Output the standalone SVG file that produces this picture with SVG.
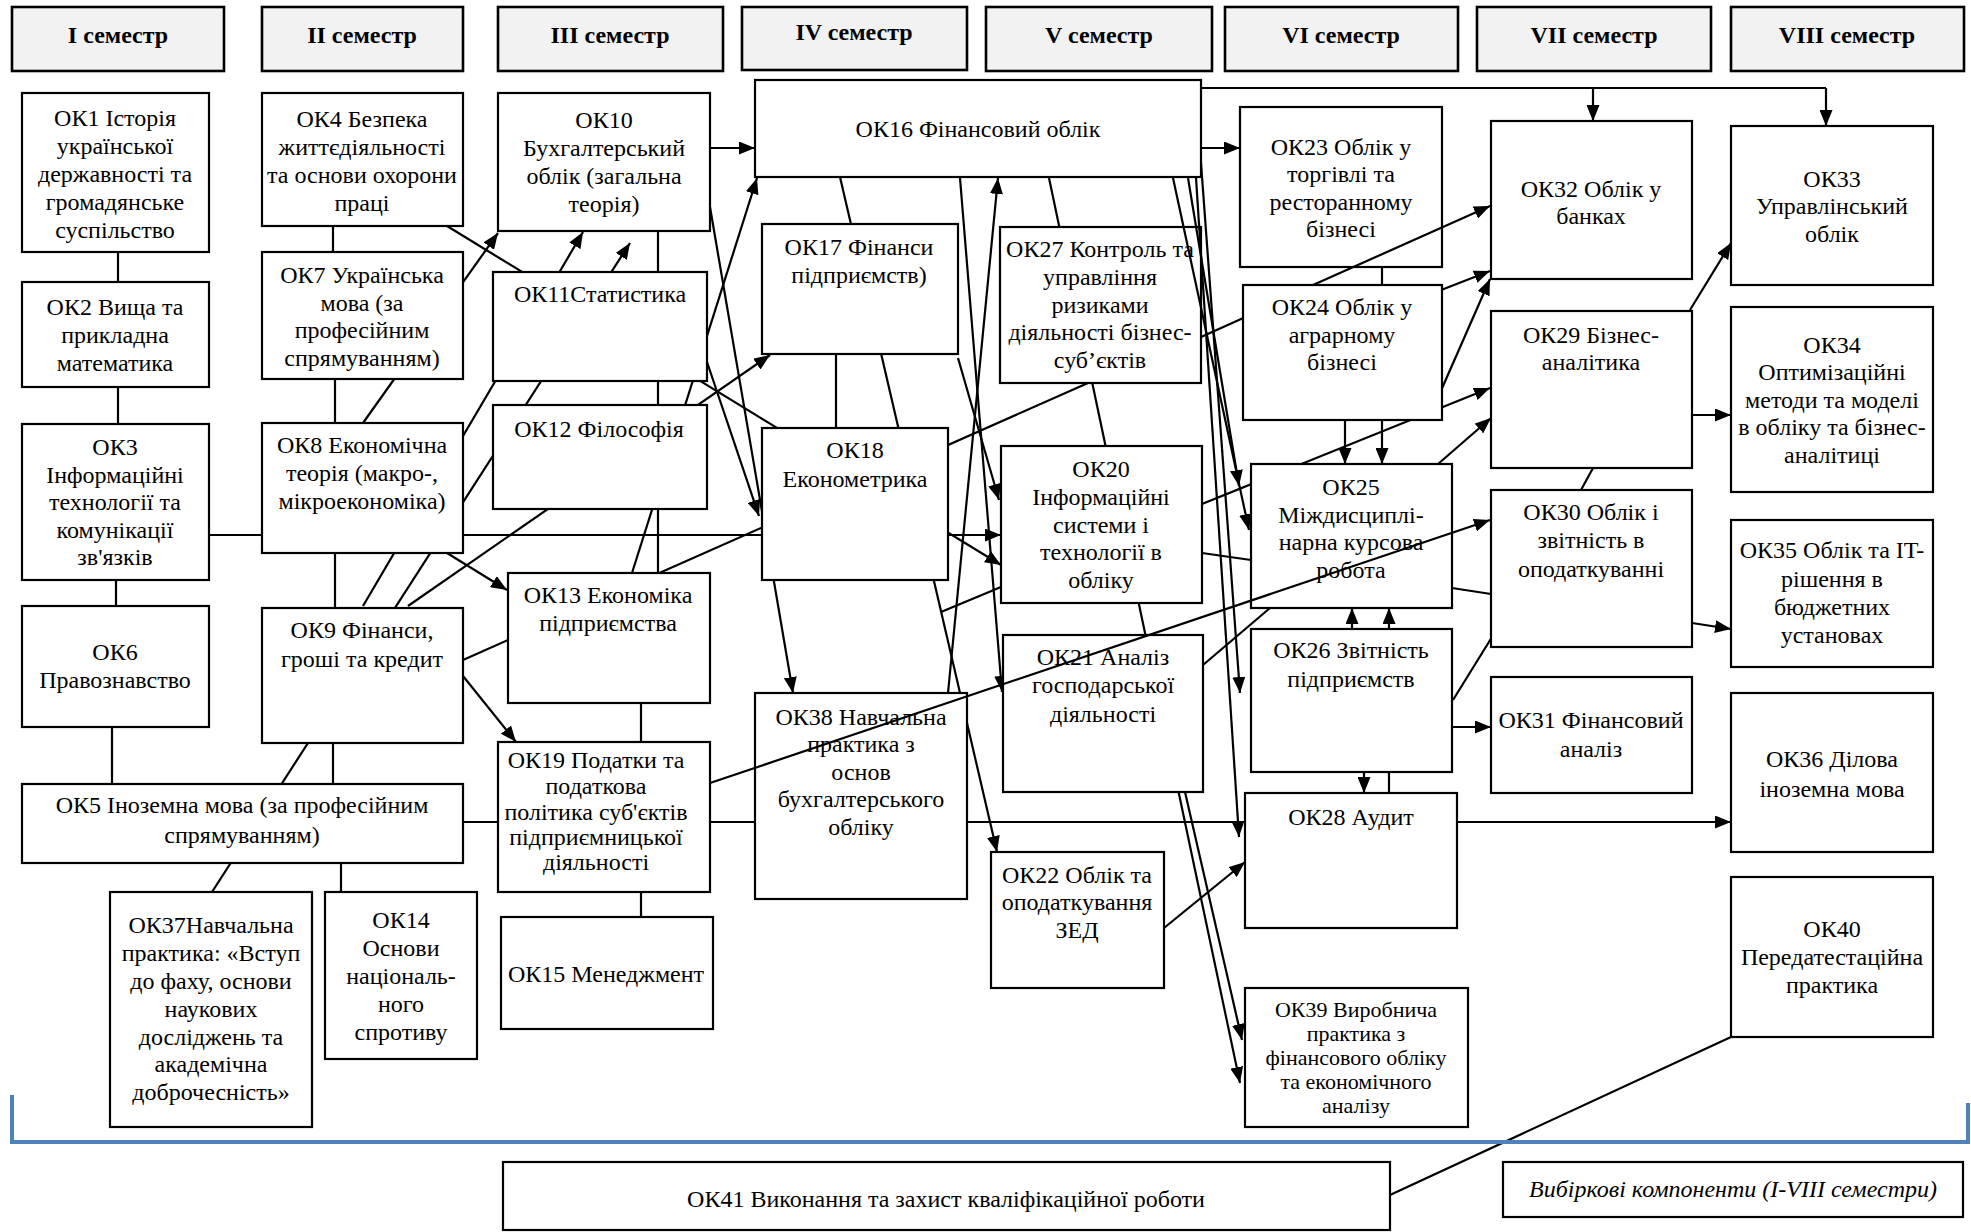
<svg xmlns="http://www.w3.org/2000/svg" width="1971" height="1232" viewBox="0 0 1971 1232">
<defs>
<marker id="ah" markerUnits="userSpaceOnUse" markerWidth="16" markerHeight="13" refX="16" refY="6.5" orient="auto"><path d="M0,0 L16,6.5 L0,13 z" fill="#000"/></marker>
<style>
.b{fill:#fff;stroke:#000;stroke-width:2.2}
.h{fill:#f2f2f2;stroke:#000;stroke-width:2.6}
.c line,.c path,.t line{stroke:#000;stroke-width:2.2;fill:none}
.a{marker-end:url(#ah)}
text{font-family:"Liberation Serif","Times New Roman","DejaVu Serif",serif;font-size:24px;fill:#000;text-anchor:middle}
.hb{font-weight:bold}
.it{font-style:italic}
.sm{font-size:22px}
</style>
</defs>
<rect width="1971" height="1232" fill="#fff"/>
<g id="headers">
<rect class="h" x="12" y="7" width="212" height="64"/><text class="hb" x="118" y="43">I семестр</text>
<rect class="h" x="262" y="7" width="201" height="64"/><text class="hb" x="362" y="43">II семестр</text>
<rect class="h" x="498" y="7" width="225" height="64"/><text class="hb" x="610" y="43">III семестр</text>
<rect class="h" x="742" y="7" width="225" height="63"/><text class="hb" x="854" y="40">IV семестр</text>
<rect class="h" x="986" y="7" width="226" height="64"/><text class="hb" x="1099" y="43">V семестр</text>
<rect class="h" x="1225" y="7" width="233" height="64"/><text class="hb" x="1341" y="43">VI семестр</text>
<rect class="h" x="1477" y="7" width="234" height="64"/><text class="hb" x="1594" y="43">VII семестр</text>
<rect class="h" x="1731" y="7" width="233" height="64"/><text class="hb" x="1847" y="43">VIII семестр</text>
</g>
<g id="connectors" class="c">
<line x1="118" y1="252" x2="118" y2="282"/>
<line x1="118" y1="387" x2="118" y2="424"/>
<line x1="116" y1="580" x2="116" y2="606"/>
<line x1="112" y1="727" x2="112" y2="784"/>
<line x1="333" y1="226" x2="333" y2="252"/>
<line x1="335" y1="379" x2="335" y2="423"/>
<line x1="335" y1="553" x2="335" y2="608"/>
<line x1="333" y1="743" x2="333" y2="784"/>
<line x1="341" y1="863" x2="341" y2="892"/>
<line class="a" x1="212" y1="892" x2="630" y2="243"/>
<line class="a" x1="363" y1="606" x2="583" y2="232"/>
<line class="a" x1="363" y1="423" x2="498" y2="233"/>
<line class="a" x1="408" y1="606" x2="770" y2="355"/>
<line class="a" x1="209" y1="535" x2="1001" y2="535"/>
<line class="a" x1="447" y1="226" x2="1001" y2="565"/>
<line x1="463" y1="660" x2="1088" y2="383"/>
<line class="a" x1="447" y1="553" x2="507" y2="590"/>
<line class="a" x1="463" y1="676" x2="516" y2="742"/>
<line class="a" x1="710" y1="148" x2="755" y2="148"/>
<line x1="658" y1="231" x2="658" y2="573"/>
<line x1="641" y1="703" x2="641" y2="742"/>
<line x1="641" y1="892" x2="641" y2="917"/>
<line class="a" x1="632" y1="573" x2="757" y2="178"/>
<line class="a" x1="707" y1="362" x2="759" y2="516"/>
<line class="a" x1="710" y1="207" x2="793" y2="693"/>
<line class="a" x1="840" y1="177" x2="997" y2="852"/>
<line x1="836" y1="354" x2="836" y2="428"/>
<line class="a" x1="948" y1="693" x2="998" y2="178"/>
<line class="a" x1="960" y1="178" x2="1002" y2="692"/>
<line class="a" x1="958" y1="358" x2="999" y2="500"/>
<line x1="941" y1="612" x2="1001" y2="587"/>
<line class="a" x1="463" y1="822" x2="1731" y2="822"/>
<line class="a" x1="1049" y1="178" x2="1240" y2="1083"/>
<line class="a" x1="1185" y1="792" x2="1242" y2="1040"/>
<line class="a" x1="1201" y1="148" x2="1240" y2="148"/>
<path d="M1201,88 H1826"/>
<line class="a" x1="1593" y1="88" x2="1593" y2="121"/>
<line class="a" x1="1826" y1="88" x2="1826" y2="126"/>
<line x1="1382" y1="267" x2="1382" y2="285"/>
<line x1="1201" y1="337" x2="1250" y2="315"/>
<line class="a" x1="1400" y1="306" x2="1490" y2="271"/>
<line class="a" x1="1436" y1="402" x2="1490" y2="279"/>
<line class="a" x1="1202" y1="504" x2="1490" y2="388"/>
<line class="a" x1="1345" y1="420" x2="1345" y2="464"/>
<line class="a" x1="1382" y1="420" x2="1382" y2="464"/>
<line class="a" x1="1352" y1="629" x2="1352" y2="608"/>
<line class="a" x1="1389" y1="629" x2="1389" y2="608"/>
<line class="a" x1="1364" y1="772" x2="1364" y2="793"/>
<line x1="1389" y1="772" x2="1389" y2="793"/>
<line x1="1202" y1="553" x2="1251" y2="560"/>
<line x1="1203" y1="665" x2="1270" y2="608"/>
<line class="a" x1="1438" y1="464" x2="1491" y2="418"/>
<line x1="1452" y1="588" x2="1491" y2="594"/>
<line x1="1453" y1="700" x2="1492" y2="637"/>
<line class="a" x1="1453" y1="727" x2="1491" y2="727"/>
<line class="a" x1="1690" y1="310" x2="1731" y2="243"/>
<line class="a" x1="1692" y1="415" x2="1731" y2="415"/>
<line x1="1593" y1="468" x2="1581" y2="490"/>
<line class="a" x1="1692" y1="623" x2="1731" y2="629"/>
<line class="a" x1="1164" y1="928" x2="1245" y2="862"/>
<line x1="1731" y1="1037" x2="1390" y2="1195"/>
</g>
<g id="nodes">
<g id="ok1"><rect class="b" x="22" y="93" width="187" height="159"/><text x="115" y="126">ОК1 Історія</text><text x="115" y="154">української</text><text x="115" y="182">державності та</text><text x="115" y="210">громадянське</text><text x="115" y="238">суспільство</text></g>
<g id="ok2"><rect class="b" x="22" y="282" width="187" height="105"/><text x="115" y="315">ОК2 Вища та</text><text x="115" y="343">прикладна</text><text x="115" y="371">математика</text></g>
<g id="ok3"><rect class="b" x="22" y="424" width="187" height="156"/><text x="115" y="455">ОК3</text><text x="115" y="483">Інформаційні</text><text x="115" y="510">технології та</text><text x="115" y="538">комунікації</text><text x="115" y="565">зв'язків</text></g>
<g id="ok6"><rect class="b" x="22" y="606" width="187" height="121"/><text x="115" y="660">ОК6</text><text x="115" y="688">Правознавство</text></g>
<g id="ok5"><rect class="b" x="22" y="784" width="441" height="79"/><text x="242" y="813">ОК5 Іноземна мова (за професійним</text><text x="242" y="843">спрямуванням)</text></g>
<g id="ok4"><rect class="b" x="262" y="93" width="201" height="133"/><text x="362" y="127">ОК4 Безпека</text><text x="362" y="155">життєдіяльності</text><text x="362" y="183">та основи охорони</text><text x="362" y="211">праці</text></g>
<g id="ok7"><rect class="b" x="262" y="252" width="201" height="127"/><text x="362" y="283">ОК7 Українська</text><text x="362" y="311">мова (за</text><text x="362" y="338">професійним</text><text x="362" y="366">спрямуванням)</text></g>
<g id="ok8"><rect class="b" x="262" y="423" width="201" height="130"/><text x="362" y="453">ОК8 Економічна</text><text x="362" y="481">теорія (макро-,</text><text x="362" y="509">мікроекономіка)</text></g>
<g id="ok9"><rect class="b" x="262" y="608" width="201" height="135"/><text x="362" y="638">ОК9 Фінанси,</text><text x="362" y="667">гроші та кредит</text></g>
<g id="ok37"><rect class="b" x="110" y="892" width="202" height="235"/><text x="211" y="933">ОК37Навчальна</text><text x="211" y="961">практика: «Вступ</text><text x="211" y="989">до фаху, основи</text><text x="211" y="1017">наукових</text><text x="211" y="1045">досліджень та</text><text x="211" y="1072">академічна</text><text x="211" y="1100">доброчесність»</text></g>
<g id="ok14"><rect class="b" x="325" y="892" width="152" height="167"/><text x="401" y="928">ОК14</text><text x="401" y="956">Основи</text><text x="401" y="984">національ-</text><text x="401" y="1012">ного</text><text x="401" y="1040">спротиву</text></g>
<g id="ok10"><rect class="b" x="498" y="93" width="212" height="138"/><text x="604" y="128">ОК10</text><text x="604" y="156">Бухгалтерський</text><text x="604" y="184">облік (загальна</text><text x="604" y="212">теорія)</text></g>
<g id="ok11"><rect class="b" x="493" y="272" width="214" height="109"/><text x="600" y="302">ОК11Статистика</text></g>
<g id="ok12"><rect class="b" x="493" y="405" width="214" height="104"/><text x="599" y="437">ОК12 Філософія</text></g>
<g id="ok13"><rect class="b" x="508" y="573" width="202" height="130"/><text x="608" y="603">ОК13 Економіка</text><text x="608" y="631">підприємства</text></g>
<g id="ok19"><rect class="b" x="498" y="742" width="212" height="150"/><text x="596" y="768">ОК19 Податки та</text><text x="596" y="794">податкова</text><text x="596" y="820">політика суб'єктів</text><text x="596" y="845">підприємницької</text><text x="596" y="870">діяльності</text></g>
<g id="ok15"><rect class="b" x="501" y="917" width="212" height="112"/><text x="606" y="982">ОК15 Менеджмент</text></g>
<g id="ok16"><rect class="b" x="755" y="80" width="446" height="97"/><text x="978" y="137">ОК16 Фінансовий облік</text></g>
<g id="ok17"><rect class="b" x="762" y="224" width="196" height="130"/><text x="859" y="255">ОК17 Фінанси</text><text x="859" y="283">підприємств)</text></g>
<g id="ok18"><rect class="b" x="762" y="428" width="186" height="152"/><text x="855" y="458">ОК18</text><text x="855" y="487">Економетрика</text></g>
<g id="ok38"><rect class="b" x="755" y="693" width="212" height="206"/><text x="861" y="725">ОК38 Навчальна</text><text x="861" y="752">практика з</text><text x="861" y="780">основ</text><text x="861" y="807">бухгалтерського</text><text x="861" y="835">обліку</text></g>
<g id="ok27"><rect class="b" x="1000" y="227" width="201" height="156"/><text x="1100" y="257">ОК27 Контроль та</text><text x="1100" y="285">управління</text><text x="1100" y="313">ризиками</text><text x="1100" y="340">діяльності бізнес-</text><text x="1100" y="368">суб’єктів</text></g>
<g id="ok20"><rect class="b" x="1001" y="446" width="201" height="157"/><text x="1101" y="477">ОК20</text><text x="1101" y="505">Інформаційні</text><text x="1101" y="533">системи і</text><text x="1101" y="560">технології в</text><text x="1101" y="588">обліку</text></g>
<g id="ok21"><rect class="b" x="1003" y="635" width="200" height="157"/><text x="1103" y="665">ОК21 Аналіз</text><text x="1103" y="693">господарської</text><text x="1103" y="722">діяльності</text></g>
<g id="ok22"><rect class="b" x="991" y="852" width="173" height="136"/><text x="1077" y="883">ОК22 Облік та</text><text x="1077" y="910">оподаткування</text><text x="1077" y="938">ЗЕД</text></g>
<g id="ok23"><rect class="b" x="1240" y="107" width="202" height="160"/><text x="1341" y="155">ОК23 Облік у</text><text x="1341" y="182">торгівлі та</text><text x="1341" y="210">ресторанному</text><text x="1341" y="237">бізнесі</text></g>
<g id="ok24"><rect class="b" x="1243" y="285" width="199" height="135"/><text x="1342" y="315">ОК24 Облік у</text><text x="1342" y="343">аграрному</text><text x="1342" y="370">бізнесі</text></g>
<g id="ok25"><rect class="b" x="1251" y="464" width="201" height="144"/><text x="1351" y="495">ОК25</text><text x="1351" y="523">Міждисциплі-</text><text x="1351" y="550">нарна курсова</text><text x="1351" y="578">робота</text></g>
<g id="ok26"><rect class="b" x="1251" y="629" width="201" height="143"/><text x="1351" y="658">ОК26 Звітність</text><text x="1351" y="687">підприємств</text></g>
<g id="ok28"><rect class="b" x="1245" y="793" width="212" height="135"/><text x="1351" y="825">ОК28 Аудит</text></g>
<g id="ok39"><rect class="b" x="1245" y="988" width="223" height="139"/><text class="sm" x="1356" y="1017">ОК39 Виробнича</text><text class="sm" x="1356" y="1041">практика з</text><text class="sm" x="1356" y="1065">фінансового обліку</text><text class="sm" x="1356" y="1089">та економічного</text><text class="sm" x="1356" y="1113">аналізу</text></g>
<g id="ok32"><rect class="b" x="1491" y="121" width="201" height="158"/><text x="1591" y="197">ОК32 Облік у</text><text x="1591" y="224">банках</text></g>
<g id="ok29"><rect class="b" x="1491" y="311" width="201" height="157"/><text x="1591" y="343">ОК29 Бізнес-</text><text x="1591" y="370">аналітика</text></g>
<g id="ok30"><rect class="b" x="1491" y="490" width="201" height="157"/><text x="1591" y="520">ОК30 Облік і</text><text x="1591" y="548">звітність в</text><text x="1591" y="577">оподаткуванні</text></g>
<g id="ok31"><rect class="b" x="1491" y="677" width="201" height="116"/><text x="1591" y="728">ОК31 Фінансовий</text><text x="1591" y="757">аналіз</text></g>
<g id="ok33"><rect class="b" x="1731" y="126" width="202" height="159"/><text x="1832" y="187">ОК33</text><text x="1832" y="214">Управлінський</text><text x="1832" y="242">облік</text></g>
<g id="ok34"><rect class="b" x="1731" y="307" width="202" height="185"/><text x="1832" y="353">ОК34</text><text x="1832" y="380">Оптимізаційні</text><text x="1832" y="408">методи та моделі</text><text x="1832" y="435">в обліку та бізнес-</text><text x="1832" y="463">аналітиці</text></g>
<g id="ok35"><rect class="b" x="1731" y="520" width="202" height="147"/><text x="1832" y="558">ОК35 Облік та IT-</text><text x="1832" y="587">рішення в</text><text x="1832" y="615">бюджетних</text><text x="1832" y="643">установах</text></g>
<g id="ok36"><rect class="b" x="1731" y="693" width="202" height="159"/><text x="1832" y="767">ОК36 Ділова</text><text x="1832" y="797">іноземна мова</text></g>
<g id="ok40"><rect class="b" x="1731" y="877" width="202" height="160"/><text x="1832" y="937">ОК40</text><text x="1832" y="965">Передатестаційна</text><text x="1832" y="993">практика</text></g>
<g id="ok41"><rect class="b" x="503" y="1162" width="887" height="68"/><text x="946" y="1207">ОК41 Виконання та захист кваліфікаційної роботи</text></g>
<g id="elective"><rect class="b" x="1503" y="1162" width="460" height="55"/><text class="it" x="1733" y="1197">Вибіркові компоненти (I-VIII семестри)</text></g>
</g>
<g id="connectors-over" class="t">
<line class="a" x1="710" y1="783" x2="1490" y2="520"/>
<line class="a" x1="1313" y1="285" x2="1490" y2="206"/>
<line class="a" x1="1173" y1="178" x2="1249" y2="530"/>
<line class="a" x1="1188" y1="178" x2="1239" y2="486"/>
<line class="a" x1="1201" y1="163" x2="1240" y2="693"/>
<line class="a" x1="1196" y1="178" x2="1239" y2="837"/>
</g>
<path id="bracket" d="M12,1095 V1142 H1968 V1103" fill="none" stroke="#4f81bd" stroke-width="4"/>
</svg>
